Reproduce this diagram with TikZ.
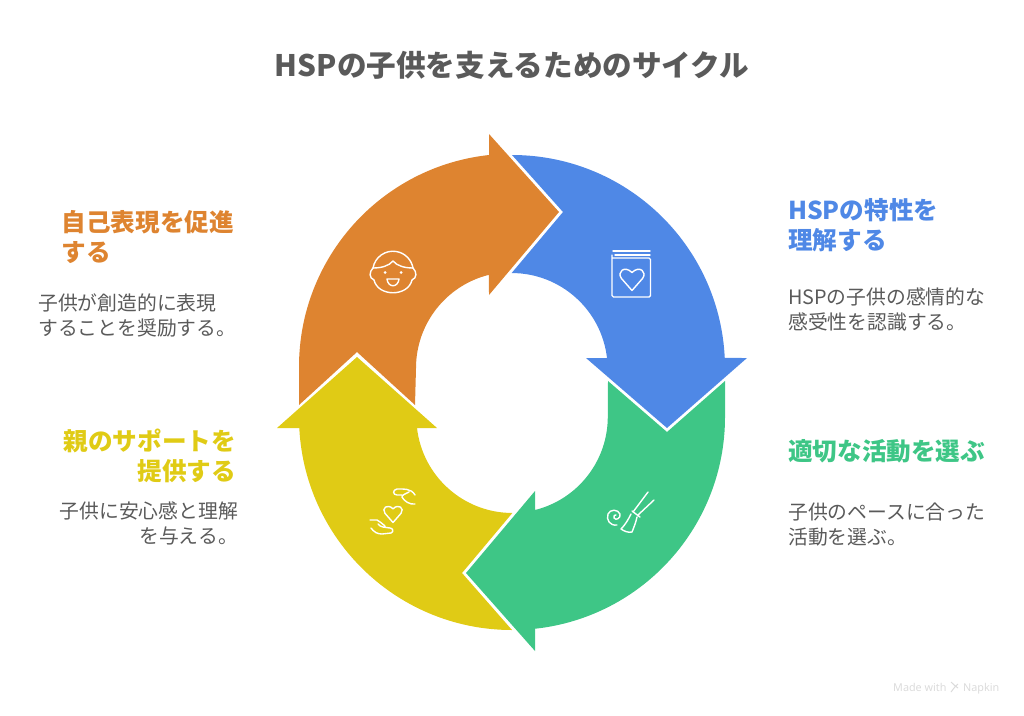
\documentclass[tikz,border=0pt]{standalone}
\usepackage{fontspec}
\setmainfont{Noto Sans CJK JP}
\newfontfamily\napkinfont{Noto Sans}
\usetikzlibrary{positioning}
\definecolor{hsporange}{HTML}{DE8430}
\definecolor{hspblue}{HTML}{4F88E6}
\definecolor{hspgreen}{HTML}{3EC686}
\definecolor{hspyellow}{HTML}{E0CB15}
\definecolor{hspgrey}{HTML}{5A5A5A}
\tikzset{
	headtext/.style={font=\fontsize{24.6}{30}\selectfont\bfseries,inner sep=0pt},
	bodytext/.style={font=\fontsize{19.8}{25.5}\selectfont,text=hspgrey,inner sep=0pt},
	marktext/.style={anchor=base west,inner sep=0pt,text=black!14,font=\fontsize{10.8}{12}\selectfont\napkinfont},
	icon/.style={draw=white,line width=1.4pt,line cap=round,line join=round},
	heart/.pic={\draw[icon] (0,#1*0.5) -- (-#1*0.42,#1*0.02) .. controls (-#1*0.62,-#1*0.24) and (-#1*0.3,-#1*0.52) .. (0,-#1*0.22) .. controls (#1*0.3,-#1*0.52) and (#1*0.62,-#1*0.24) .. (#1*0.42,#1*0.02) -- cycle;}
}
\begin{document}
\begin{tikzpicture}[x=1pt,y=-1pt]
	\useasboundingbox (0,0) rectangle (1024,715);
	\node (title) at (512,65)[font=\fontsize{29.6}{34}\selectfont\bfseries,text=hspgrey,inner sep=0pt] {HSPの子供を支えるためのサイクル};
	\fill[hspblue] (512,155) arc[start angle=-90,end angle=-2.7,radius=213] -- (747,358) -- (667,428) -- (586,358) -- (607,358) arc[start angle=-6.6,end angle=-90,radius=96] -- (563,212) -- cycle;
	\fill[hspgreen] (725,381) -- (725,417) arc[start angle=0,end angle=83.8,radius=213] -- (535,651) -- (466,573) -- (535,491) -- (535,510) arc[start angle=76,end angle=0,radius=96] -- (608,381) -- (667,432) -- cycle;
	\fill[hspyellow] (512,630) arc[start angle=90,end angle=180,radius=213] -- (299,428) -- (277,428) -- (357,357) -- (437,428) -- (417,428) arc[start angle=173.4,end angle=90,radius=96] -- (462,573) -- cycle;
	\fill[hsporange] (489,155) arc[start angle=-96.2,end angle=-180,radius=213] -- (299,405) -- (357,352) -- (415,405) -- (416,368) arc[start angle=180,end angle=256.1,radius=96] -- (489,295) -- (559,212) -- (489,134) -- cycle;
	\node (selfhead) at (61.5,237)[headtext,text=hsporange,anchor=west,align=left] {自己表現を促進\\する};
	\node (selfbody) at (38,315.5)[bodytext,anchor=west,align=left] {子供が創造的に表現\\することを奨励する。};
	\node (hsphead) at (788,225)[headtext,text=hspblue,anchor=west,align=left] {HSPの特性を\\理解する};
	\node (hspbody) at (788,309.5)[bodytext,anchor=west,align=left] {HSPの子供の感情的な\\感受性を認識する。};
	\node (acthead) at (788,451)[headtext,text=hspgreen,anchor=west] {適切な活動を選ぶ};
	\node (actbody) at (788,524.5)[bodytext,anchor=west,align=left] {子供のペースに合った\\活動を選ぶ。};
	\node (parenthead) at (236,456)[headtext,text=hspyellow,anchor=east,align=right] {親のサポートを\\提供する};
	\node (parentbody) at (238,523.5)[bodytext,anchor=east,align=right] {子供に安心感と理解\\を与える。};
	\draw[icon] (373,268) arc[start angle=190,end angle=350,radius=20.3];
	\draw[icon] (374,280) .. controls (378,297) and (408,297) .. (412,280);
	\draw[icon] (373,268) .. controls (369,272) and (369,278) .. (374,280) (413,268) .. controls (417,272) and (417,278) .. (412,280);
	\draw[icon] (373,268) .. controls (381,268) and (389,266) .. (393,261) .. controls (397,266) and (405,268) .. (413,268);
	\fill[white] (385,272.5) circle (1.5) (401,272.5) circle (1.5);
	\draw[icon] (387,279) -- (399,279) .. controls (398,288) and (388,288) .. (387,279) -- cycle;
	\draw[icon,rounded corners=1.5pt] (612,255) -- (612,297) -- (650.5,297) -- (650.5,258) -- (612,258);
	\draw[icon] (613,251) -- (650,251) (615,255) -- (650,255);
	\pic at (632,278) {heart=25};
	\pic at (393,513) {heart=19};
	\draw[icon] (415,495) .. controls (411,488) and (403,489) .. (397,489) .. controls (392,490) and (393,495) .. (397,495) -- (402,495) (409,492) .. controls (405,494) and (402,495) .. (402,497) .. controls (404,501) and (410,505) .. (415,504);
	\draw[icon] (370,520) -- (377,520) .. controls (380,521) and (382,524) .. (385,526) (371,528) .. controls (374,532) and (377,534) .. (382,534) -- (391,533) .. controls (394,532) and (393,528) .. (390,528) -- (383,527) .. controls (381,527) and (379,525) .. (378,524);
	\draw[icon] (648,492) -- (633,512) (654,500) -- (638,515) (632,511) -- (640,517) (631,514) .. controls (628,520) and (625,525) .. (621,529) .. controls (624,531) and (628,533) .. (632,532) .. controls (634,527) and (636,522) .. (637,517);
	\draw[icon] (617,525) .. controls (610,526) and (606,520) .. (608,514) .. controls (610,509) and (618,509) .. (620,514) .. controls (621,518) and (616,521) .. (614,518) .. controls (613,516) and (615,514) .. (616,515);
	\node (madewith) at (893,691)[marktext] {Made with};
	\node (napkin) at (963,691)[marktext] {Napkin};
	\draw[black!14,line width=1pt] (951,682) .. controls (954,684) and (955,687) .. (958,688) (958,684) .. controls (954,687) and (953,690) .. (951,692);
\end{tikzpicture}
\end{document}
